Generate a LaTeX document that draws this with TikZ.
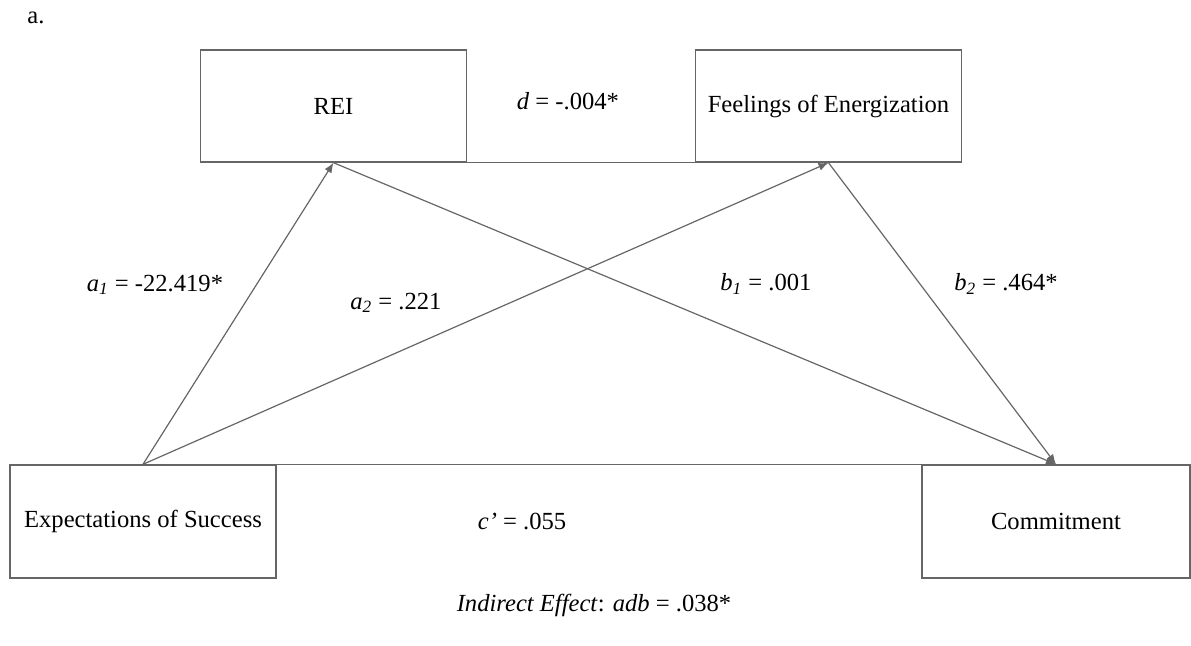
\documentclass[tikz,border=0pt]{standalone}
\usepackage{fontspec}
\setmainfont{Liberation Serif}
\usetikzlibrary{arrows.meta}
\begin{document}
\begin{tikzpicture}[x=0.5pt,y=-0.5pt,font=\fontsize{12.3}{14}\selectfont]
\tikzset{varbox/.style={draw=black!60,line width=0.7pt,minimum width=133pt,minimum height=56pt,inner sep=0pt},
path/.style={draw=black!60,line width=0.6pt},
effect/.style={path,-{Latex[length=5pt,width=4pt]}}}
\useasboundingbox (0,0) rectangle (1191,645);
\node (tag) at (36,18) {a.};
\node[varbox] (rei) at (333.5,106) {REI};
\node[varbox] (feel) at (828.5,106) {Feelings of Energization};
\node[varbox,minimum height=56.5pt] (exp) at (143,521.5) {Expectations of Success};
\node[varbox,minimum width=134pt,minimum height=56.5pt] (com) at (1056,521.5) {Commitment};
\draw[path] (rei.south east) -- (feel.south west);
\draw[path] (exp.north east) -- (com.north west);
\draw[effect] (exp.north) -- (rei.south);
\draw[effect] (exp.north) -- (feel.south);
\draw[effect] (rei.south) -- (com.north);
\draw[effect] (feel.south) -- (com.north);
\node (d) at (568,101) {\textit{d} = -.004*};
\node (a1) at (155,285) {\textit{a}\textsubscript{\textit{1}} = -22.419*};
\node (a2) at (396,303) {\textit{a}\textsubscript{\textit{2}} = .221};
\node (b1) at (766,284) {\textit{b}\textsubscript{\textit{1}} = .001};
\node (b2) at (1006,284) {\textit{b}\textsubscript{\textit{2}} = .464*};
\node (c) at (522,521) {\textit{c’} = .055};
\node (ind) at (594,605) {\textit{Indirect Effect}: \textit{adb} = .038*};
\end{tikzpicture}
\end{document}
